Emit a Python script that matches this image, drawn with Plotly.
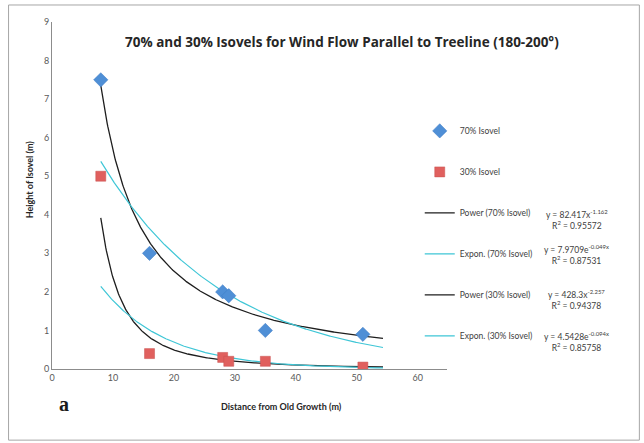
import numpy as np
import plotly.graph_objects as go

# ---- data ----
dist_70 = [8, 16, 28, 29, 35, 51]
height_70 = [7.5, 3.0, 2.0, 1.9, 1.0, 0.9]
dist_30 = [8, 16, 28, 29, 35, 51]
height_30 = [5.0, 0.4, 0.3, 0.2, 0.2, 0.05]

# trendline equations printed on the chart (y = a*x^b, y = a*e^(b*x))
power_70 = [82.417, -1.162]
expon_70 = [7.9709, -0.049]
power_30 = [428.3, -2.257]
expon_30 = [4.5428, -0.094]
r2_values = ["0.95572", "0.87531", "0.94378", "0.85758"]
trend_span = [8, 54.3]   # x extent of the drawn trendlines

x_ticks = [0, 10, 20, 30, 40, 50, 60]
y_ticks = [0, 1, 2, 3, 4, 5, 6, 7, 8, 9]

FONT = "Lato"
GREY = "#595959"

xs = np.linspace(trend_span[0], trend_span[1], 400)

fig = go.Figure()

fig.add_trace(go.Scatter(
    x=xs, y=power_70[0] * xs ** power_70[1], mode="lines",
    name="Power (70% Isovel)", line=dict(color="#1E1E1E", width=1.3),
    legendgroup="c", legendrank=3))
fig.add_trace(go.Scatter(
    x=xs, y=expon_70[0] * np.exp(expon_70[1] * xs), mode="lines",
    name="Expon. (70% Isovel)", line=dict(color="#3EC6D6", width=1.2),
    legendgroup="d", legendrank=4))
fig.add_trace(go.Scatter(
    x=xs, y=power_30[0] * xs ** power_30[1], mode="lines",
    name="Power (30% Isovel)", line=dict(color="#1E1E1E", width=1.3),
    legendgroup="e", legendrank=5))
fig.add_trace(go.Scatter(
    x=xs, y=expon_30[0] * np.exp(expon_30[1] * xs), mode="lines",
    name="Expon. (30% Isovel)", line=dict(color="#3EC6D6", width=1.2),
    legendgroup="f", legendrank=6))

fig.add_trace(go.Scatter(
    x=dist_70, y=height_70, mode="markers", name="70% Isovel",
    marker=dict(symbol="diamond", size=11, color="#4F8FD6",
                line=dict(color="#3A78C2", width=0.5)),
    legendgroup="a", legendrank=1))
fig.add_trace(go.Scatter(
    x=dist_30, y=height_30, mode="markers", name="30% Isovel",
    marker=dict(symbol="square", size=10, color="#E0605E",
                line=dict(color="#C8504E", width=0.5)),
    legendgroup="b", legendrank=2))

fig.update_layout(
    width=644, height=443,
    margin=dict(l=52, r=197, t=22, b=74),
    plot_bgcolor="white", paper_bgcolor="white",
    font=dict(family=FONT, size=9, color=GREY),
    title=dict(text="<b>70% and 30% Isovels for Wind Flow Parallel to Treeline (180-200°)</b>",
               x=0.185, xref="paper", xanchor="left",
               y=0.905, yref="container", yanchor="middle",
               font=dict(family="Open Sans", size=13.5, color="#262626")),
    xaxis=dict(range=[0, 64.8], tickvals=x_ticks, showgrid=False, zeroline=False,
               showline=True, linecolor="#8C8C8C", linewidth=1, ticks="",
               tickfont=dict(size=9, color=GREY)),
    yaxis=dict(range=[0, 9], tickvals=y_ticks, showgrid=False, zeroline=False,
               showline=True, linecolor="#8C8C8C", linewidth=1, ticks="",
               tickfont=dict(size=9, color=GREY)),
    # decorative axes carrying the reference's gridlines and x tick marks
    xaxis2=dict(range=[0, 60], overlaying="x", anchor="y", side="bottom",
                tickvals=x_ticks, showticklabels=False, showgrid=False,
                zeroline=False, ticks="outside", ticklen=4, tickcolor="#8C8C8C"),
    yaxis2=dict(range=[0.65, 9], overlaying="y", anchor="x", side="left",
                dtick=1, tick0=0, showticklabels=False, showgrid=True,
                gridcolor="#A6A6A6", gridwidth=1, zeroline=False, ticks=""),
    legend=dict(x=0.931, xanchor="left", y=0.728, yanchor="top",
                font=dict(size=8.5, color="#404040"),
                tracegroupgap=22, bgcolor="rgba(0,0,0,0)",
                itemwidth=30),
    showlegend=True,
)

# axis titles
fig.add_annotation(text="<b>Distance from Old Growth (m)</b>", xref="paper", yref="paper",
                   x=0.58, y=-0.107, xanchor="center", yanchor="middle", showarrow=False,
                   font=dict(family=FONT, size=9, color="#262626"))
fig.add_annotation(text="<b>Height of Isovel (m)</b>", xref="paper", yref="paper",
                   x=-0.057, y=0.548, xanchor="center", yanchor="middle", showarrow=False,
                   textangle=-90, font=dict(family=FONT, size=9, color="#262626"))

eq_texts = [
    "y = 82.417x<sup>-1.162</sup><br>R<sup>2</sup> = " + r2_values[0],
    "y = 7.9709e<sup>-0.049x</sup><br>R<sup>2</sup> = " + r2_values[1],
    "y = 428.3x<sup>-2.257</sup><br>R<sup>2</sup> = " + r2_values[2],
    "y = 4.5428e<sup>-0.094x</sup><br>R<sup>2</sup> = " + r2_values[3],
]
eq_y = [0.431, 0.331, 0.200, 0.079]
for t, yy in zip(eq_texts, eq_y):
    fig.add_annotation(text=t, xref="paper", yref="paper", x=1.328, y=yy,
                       xanchor="center", yanchor="middle", showarrow=False,
                       align="center", font=dict(size=8.5, color="#404040", family=FONT))

fig.add_annotation(text="<b>a</b>", xref="paper", yref="paper", x=0.012, y=-0.10,
                   xanchor="left", yanchor="middle", showarrow=False,
                   font=dict(family="Liberation Serif", size=20, color="#1A1A1A"))

fig.add_shape(type="rect", xref="paper", yref="paper",
              x0=-0.110, x1=1.487, y0=-0.205, y1=1.049,
              line=dict(color="#A6A6A6", width=1), layer="below")

fig.write_html("out.html")
